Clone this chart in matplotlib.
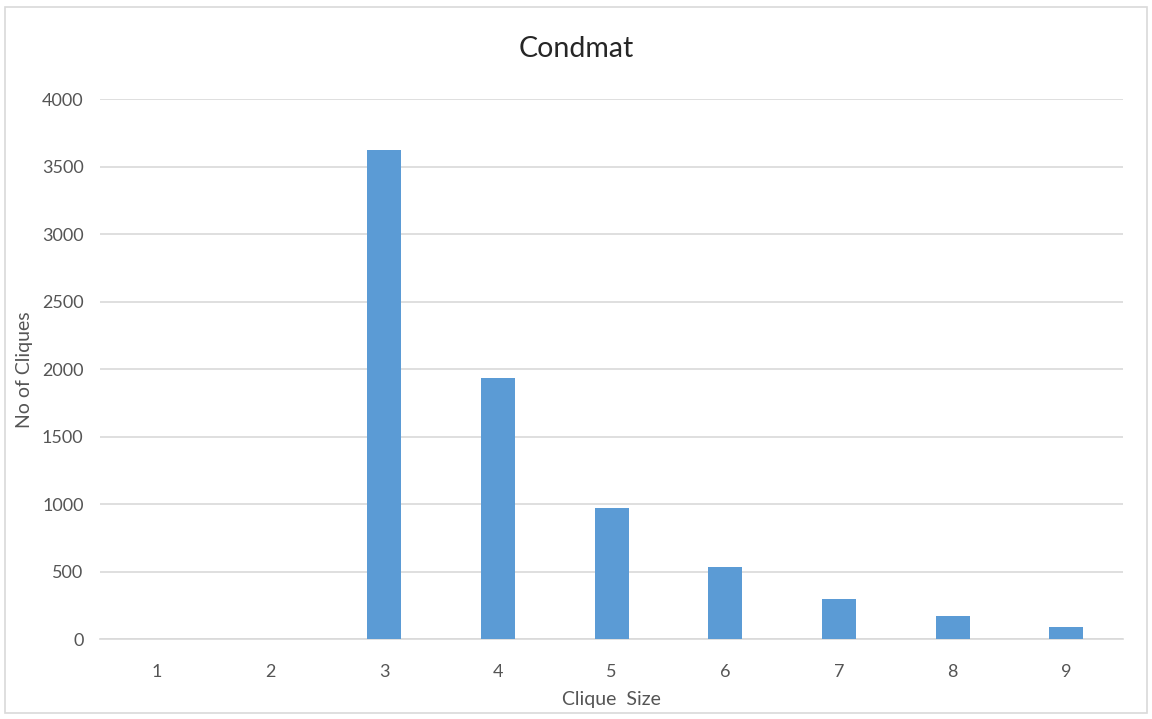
import matplotlib
matplotlib.use("Agg")
import matplotlib.pyplot as plt
from matplotlib.patches import Rectangle

# Clique size distribution
clique_size = ["1", "2", "3", "4", "5", "6", "7", "8", "9"]
num_cliques = [0, 0, 3622, 1936, 970, 537, 297, 175, 88]
y_ticks = [0, 500, 1000, 1500, 2000, 2500, 3000, 3500, 4000]

plt.rcParams['font.family'] = ['Lato', 'DejaVu Sans']
text_color = "#555555"

fig = plt.figure(figsize=(11.52, 7.19), dpi=100)
ax = fig.add_axes([0.087, 0.111, 0.888, 0.751])

x = range(len(clique_size))
ax.bar(x, num_cliques, width=0.3, color="#5B9BD5", zorder=3)

ax.set_xlim(-0.5, len(clique_size) - 0.5)
ax.set_ylim(0, 4000)
ax.set_xticks(list(x))
ax.set_xticklabels(clique_size)
ax.set_yticks(y_ticks)
ax.yaxis.grid(True, color="#D9D9D9", linewidth=1.2, zorder=0)
ax.tick_params(axis="both", length=0, labelsize=13, colors=text_color)
ax.tick_params(axis="x", pad=18)
ax.tick_params(axis="y", pad=12)
for side in ["top", "right", "left"]:
    ax.spines[side].set_visible(False)
ax.spines["bottom"].set_color("#D9D9D9")
ax.spines["bottom"].set_linewidth(1.2)

# title centred on the whole figure, like the spreadsheet chart
fig.text(0.5, 0.932, "Condmat", fontsize=20.5, color="#262626", ha="center", va="center")
ax.set_xlabel("Clique  Size", fontsize=14, color=text_color, labelpad=8)
ax.set_ylabel("No of Cliques", fontsize=14, color=text_color, labelpad=6)

# light border round the chart area
fig.patches.append(Rectangle((0.004, 0.008), 0.992, 0.982, transform=fig.transFigure,
                             fill=False, edgecolor="#D9D9D9", linewidth=1.2))

fig.savefig("out.png", dpi=100)
